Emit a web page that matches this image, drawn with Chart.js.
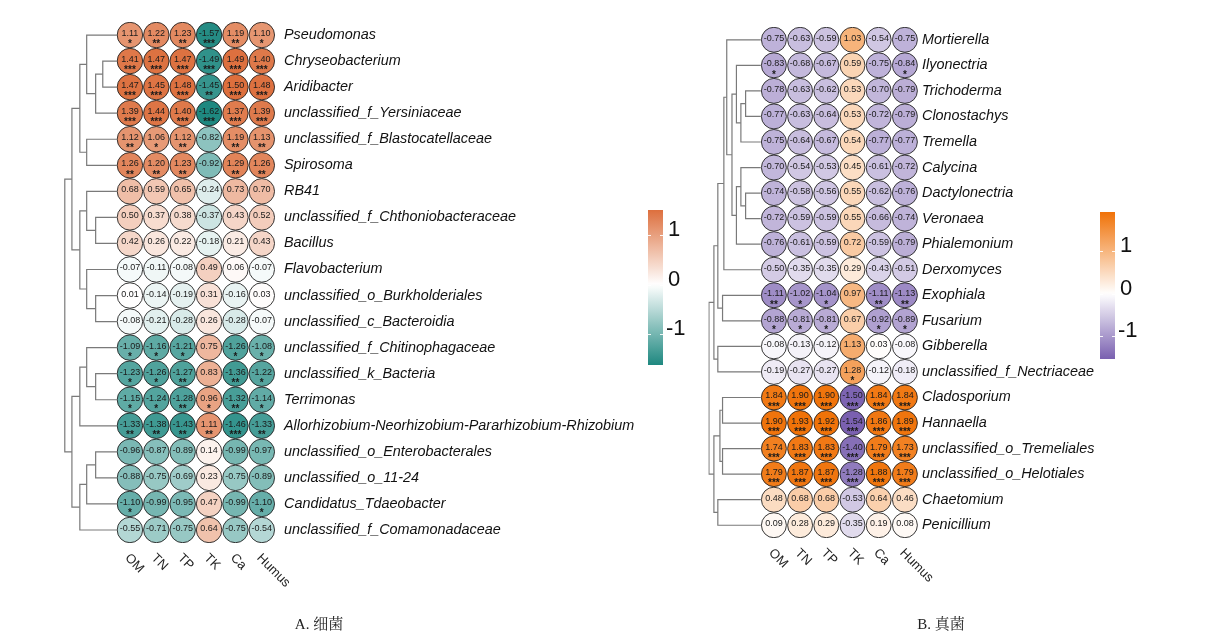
<!DOCTYPE html>
<html><head><meta charset="utf-8">
<script src="https://cdn.jsdelivr.net/npm/chart.js@4.4.0/dist/chart.umd.min.js"></script>
<style>
body{margin:0;background:#fff;width:1230px;height:640px;position:relative;overflow:hidden}
#c1{position:absolute;left:0;top:0}
#c2{position:absolute;left:700px;top:0}
.cap{position:absolute;top:612px;font-family:"Liberation Serif","Noto Serif CJK SC","Noto Sans CJK SC",serif;font-size:15px;color:#222;transform:translateX(-50%);white-space:nowrap}
</style></head><body>
<canvas id="c1" width="700" height="640"></canvas>
<canvas id="c2" width="530" height="640"></canvas>
<div class="cap" style="left:319px">A. 细菌</div>
<div class="cap" style="left:941px">B. 真菌</div>
<script>
const envVars = ["OM","TN","TP","TK","Ca","Humus"];

const bacTaxa = ["Pseudomonas","Chryseobacterium","Aridibacter","unclassified_f_Yersiniaceae","unclassified_f_Blastocatellaceae","Spirosoma","RB41","unclassified_f_Chthoniobacteraceae","Bacillus","Flavobacterium","unclassified_o_Burkholderiales","unclassified_c_Bacteroidia","unclassified_f_Chitinophagaceae","unclassified_k_Bacteria","Terrimonas","Allorhizobium-Neorhizobium-Pararhizobium-Rhizobium","unclassified_o_Enterobacterales","unclassified_o_11-24","Candidatus_Tdaeobacter","unclassified_f_Comamonadaceae"];
const bacValues = [
[1.11,1.22,1.23,-1.57,1.19,1.10],
[1.41,1.47,1.47,-1.49,1.49,1.40],
[1.47,1.45,1.48,-1.45,1.50,1.48],
[1.39,1.44,1.40,-1.62,1.37,1.39],
[1.12,1.06,1.12,-0.82,1.19,1.13],
[1.26,1.20,1.23,-0.92,1.29,1.26],
[0.68,0.59,0.65,-0.24,0.73,0.70],
[0.50,0.37,0.38,-0.37,0.43,0.52],
[0.42,0.26,0.22,-0.18,0.21,0.43],
[-0.07,-0.11,-0.08,0.49,0.06,-0.07],
[0.01,-0.14,-0.19,0.31,-0.16,0.03],
[-0.08,-0.21,-0.28,0.26,-0.28,-0.07],
[-1.09,-1.16,-1.21,0.75,-1.26,-1.08],
[-1.23,-1.26,-1.27,0.83,-1.36,-1.22],
[-1.15,-1.24,-1.28,0.96,-1.32,-1.14],
[-1.33,-1.38,-1.43,1.11,-1.46,-1.33],
[-0.96,-0.87,-0.89,0.14,-0.99,-0.97],
[-0.88,-0.75,-0.69,0.23,-0.75,-0.89],
[-1.10,-0.99,-0.95,0.47,-0.99,-1.10],
[-0.55,-0.71,-0.75,0.64,-0.75,-0.54]];
const bacStars = [
[1,2,2,3,2,1],[3,3,3,3,3,3],[3,3,3,2,3,3],[3,3,3,3,3,3],[2,1,2,0,2,2],[2,2,2,0,2,2],
[0,0,0,0,0,0],[0,0,0,0,0,0],[0,0,0,0,0,0],[0,0,0,0,0,0],[0,0,0,0,0,0],[0,0,0,0,0,0],
[1,1,1,0,1,1],[1,1,2,0,2,1],[1,1,2,1,2,1],[2,2,2,2,3,2],
[0,0,0,0,0,0],[0,0,0,0,0,0],[1,0,0,0,0,1],[0,0,0,0,0,0]];
// merges: [childA, childB, height]; numbers = leaf rows, "nK" = K-th merge
const bacTree = [
[1,2,0.53],["n0",3,0.8],[0,"n1",1.14],[4,5,1.14],["n2","n3",1.4],
[7,8,0.8],[6,"n5",1.14],[10,11,0.8],[9,"n7",1.14],["n6","n8",1.4],["n4","n9",1.7],
[13,14,0.8],[12,"n11",1.14],["n12",15,1.4],[16,17,0.8],["n14",18,1.14],["n15",19,1.4],
["n13","n16",1.7],["n10","n17",1.97]];

const fungTaxa = ["Mortierella","Ilyonectria","Trichoderma","Clonostachys","Tremella","Calycina","Dactylonectria","Veronaea","Phialemonium","Derxomyces","Exophiala","Fusarium","Gibberella","unclassified_f_Nectriaceae","Cladosporium","Hannaella","unclassified_o_Tremeliales","unclassified_o_Helotiales","Chaetomium","Penicillium"];
const fungValues = [
[-0.75,-0.63,-0.59,1.03,-0.54,-0.75],
[-0.83,-0.68,-0.67,0.59,-0.75,-0.84],
[-0.78,-0.63,-0.62,0.53,-0.70,-0.79],
[-0.77,-0.63,-0.64,0.53,-0.72,-0.79],
[-0.75,-0.64,-0.67,0.54,-0.77,-0.77],
[-0.70,-0.54,-0.53,0.45,-0.61,-0.72],
[-0.74,-0.58,-0.56,0.55,-0.62,-0.76],
[-0.72,-0.59,-0.59,0.55,-0.66,-0.74],
[-0.76,-0.61,-0.59,0.72,-0.59,-0.79],
[-0.50,-0.35,-0.35,0.29,-0.43,-0.51],
[-1.11,-1.02,-1.04,0.97,-1.11,-1.13],
[-0.88,-0.81,-0.81,0.67,-0.92,-0.89],
[-0.08,-0.13,-0.12,1.13,0.03,-0.08],
[-0.19,-0.27,-0.27,1.28,-0.12,-0.18],
[1.84,1.90,1.90,-1.50,1.84,1.84],
[1.90,1.93,1.92,-1.54,1.86,1.89],
[1.74,1.83,1.83,-1.40,1.79,1.73],
[1.79,1.87,1.87,-1.28,1.88,1.79],
[0.48,0.68,0.68,-0.53,0.64,0.46],
[0.09,0.28,0.29,-0.35,0.19,0.08]];
const fungStars = [
[0,0,0,0,0,0],[1,0,0,0,0,1],[0,0,0,0,0,0],[0,0,0,0,0,0],[0,0,0,0,0,0],[0,0,0,0,0,0],
[0,0,0,0,0,0],[0,0,0,0,0,0],[0,0,0,0,0,0],[0,0,0,0,0,0],[2,1,1,0,2,2],[1,1,1,0,1,1],
[0,0,0,0,0,0],[0,0,0,1,0,0],[3,3,3,3,3,3],[3,3,3,3,3,3],[3,3,3,3,3,3],[3,3,3,3,3,3],
[0,0,0,0,0,0],[0,0,0,0,0,0]];
const fungTree = [
[2,3,0.58],["n0",4,0.76],[1,"n1",0.93],[6,7,0.58],[5,"n3",0.76],["n4",8,0.93],
["n2","n5",1.1],[0,"n6",1.3],["n7",9,1.41],[10,11,1.46],["n8","n9",1.64],[12,13,1.64],
["n10","n11",1.79],[14,15,1.46],[16,17,1.46],["n13","n14",1.56],[18,19,1.64],
["n15","n16",1.79],["n12","n17",1.98]];

const colorbarTicks = [1,0,-1];
const FONT = "'Liberation Sans', Arial, sans-serif";

function makeScale(low,high,maxAbs){
 return v=>{const t=Math.min(1,Math.abs(v)/maxAbs);const E=v<0?low:high;
  const c=[0,1,2].map(k=>Math.round(255+(E[k]-255)*t));return `rgb(${c[0]},${c[1]},${c[2]})`;};}

function treeDatasets(tree,color){
 const pos={};const get=k=>typeof k==='number'?{x:-0.5,y:k}:pos[k];const sets=[];
 tree.forEach((m,i)=>{const a=get(m[0]),b=get(m[1]);const xp=-0.5-m[2];
  pos['n'+i]={x:xp,y:(a.y+b.y)/2};
  sets.push({data:[{x:a.x,y:a.y},{x:xp,y:a.y},{x:xp,y:b.y},{x:b.x,y:b.y}],showLine:true,borderColor:color,
   borderWidth:1.2,pointRadius:0,pointHoverRadius:0,fill:false,tension:0,order:2});});
 return sets;}

function buildPanel(id,cfg){
 const flat=cfg.values.flat();const vmin=Math.min(...flat),vmax=Math.max(...flat);
 const maxAbs=Math.max(Math.abs(vmin),Math.abs(vmax));
 const col=makeScale(cfg.low,cfg.high,maxAbs);
 const heat=[];cfg.values.forEach((row,r)=>row.forEach((v,c)=>heat.push({x:c,y:r,v:v,s:cfg.stars[r][c]})));
 const rad=ctx=>{const ch=ctx.chart;const xs=ch.scales.x,ys=ch.scales.y;if(!xs||!ys)return 12;
  const dx=Math.abs(xs.getPixelForValue(1)-xs.getPixelForValue(0)),dy=Math.abs(ys.getPixelForValue(1)-ys.getPixelForValue(0));
  return Math.min(dx,dy)/2-0.3;};
 const heatSet={data:heat,pointRadius:rad,pointHoverRadius:rad,pointBackgroundColor:ctx=>ctx.raw?col(ctx.raw.v):'#fff',
  pointBorderColor:'#222',pointBorderWidth:0.9,order:1};
 const datasets=[heatSet,...treeDatasets(cfg.tree,'#7a7a7a')];
 const plugin={id:'extras',afterDatasetsDraw(chart){
  const ctx=chart.ctx;const meta=chart.getDatasetMeta(0);const xs=chart.scales.x;const ca=chart.chartArea;
  ctx.save();ctx.fillStyle='#1a1a1a';ctx.textAlign='center';ctx.textBaseline='middle';
  meta.data.forEach((el,i)=>{const d=heat[i];ctx.font='9px '+FONT;ctx.fillText(d.v.toFixed(2),el.x,el.y-1.5);
   if(d.s){ctx.font='bold 10px '+FONT;ctx.fillText('*'.repeat(d.s),el.x,el.y+9.5);}});
  // x labels (rotated)
  ctx.font='13px '+FONT;ctx.fillStyle='#222';ctx.textAlign='left';
  envVars.forEach((lab,i)=>{const px=xs.getPixelForValue(i);ctx.save();ctx.translate(px-3,ca.bottom+13);
   ctx.rotate(Math.PI/4);ctx.fillText(lab,0,0);ctx.restore();});
  // colorbar
  const cb=cfg.cb;const grad=ctx.createLinearGradient(0,cb.y,0,cb.y+cb.h);
  for(let k=0;k<=40;k++){const v=vmax-(vmax-vmin)*k/40;grad.addColorStop(k/40,col(v));}
  ctx.fillStyle=grad;ctx.fillRect(cb.x,cb.y,cb.w,cb.h);
  const yOf=v=>cb.y+(vmax-v)/(vmax-vmin)*cb.h;
  ctx.strokeStyle='rgba(255,255,255,0.9)';ctx.lineWidth=1;
  ctx.font='22px '+FONT;ctx.fillStyle='#111';ctx.textAlign='left';ctx.textBaseline='middle';
  colorbarTicks.forEach(t=>{const y=Math.round(yOf(t))+0.5;ctx.beginPath();ctx.moveTo(cb.x,y);ctx.lineTo(cb.x+3,y);
   ctx.moveTo(cb.x+cb.w-3,y);ctx.lineTo(cb.x+cb.w,y);ctx.stroke();
   ctx.fillText(String(t),cb.x+cb.w+(t<0?3:5),y-6);});
  ctx.restore();}};
 return new Chart(document.getElementById(id),{type:'scatter',data:{datasets},plugins:[plugin],
  options:{responsive:false,animation:false,events:[],
   layout:{padding:{left:cfg.padL,top:cfg.padT,bottom:cfg.padB,right:0}},
   plugins:{legend:{display:false},tooltip:{enabled:false}},
   scales:{x:{type:'linear',min:-2.5,max:5.5,display:false},
    y:{type:'linear',min:-0.5,max:19.5,reverse:true,position:'right',grid:{display:false,drawTicks:false},border:{display:false},
     afterBuildTicks:s=>{s.ticks=cfg.taxa.map((_,i)=>({value:i}));},
     afterFit:s=>{s.width=cfg.axisW;},
     ticks:{autoSkip:false,padding:cfg.tickPad,color:'#111',font:{family:FONT,size:14.4,style:'italic'},callback:v=>cfg.taxa[v]}}}}});
}

buildPanel('c1',{taxa:bacTaxa,values:bacValues,stars:bacStars,tree:bacTree,low:[30,136,128],high:[218,100,46],
 padL:64,padT:22,padB:97,axisW:425,tickPad:9,cb:{x:648,y:210,w:15,h:155}});
buildPanel('c2',{taxa:fungTaxa,values:fungValues,stars:fungStars,tree:fungTree,low:[88,56,156],high:[240,114,8],
 padL:8.4,padT:27,padB:102,axisW:312,tickPad:4,cb:{x:400,y:212,w:15,h:147}});
</script>
</body></html>
